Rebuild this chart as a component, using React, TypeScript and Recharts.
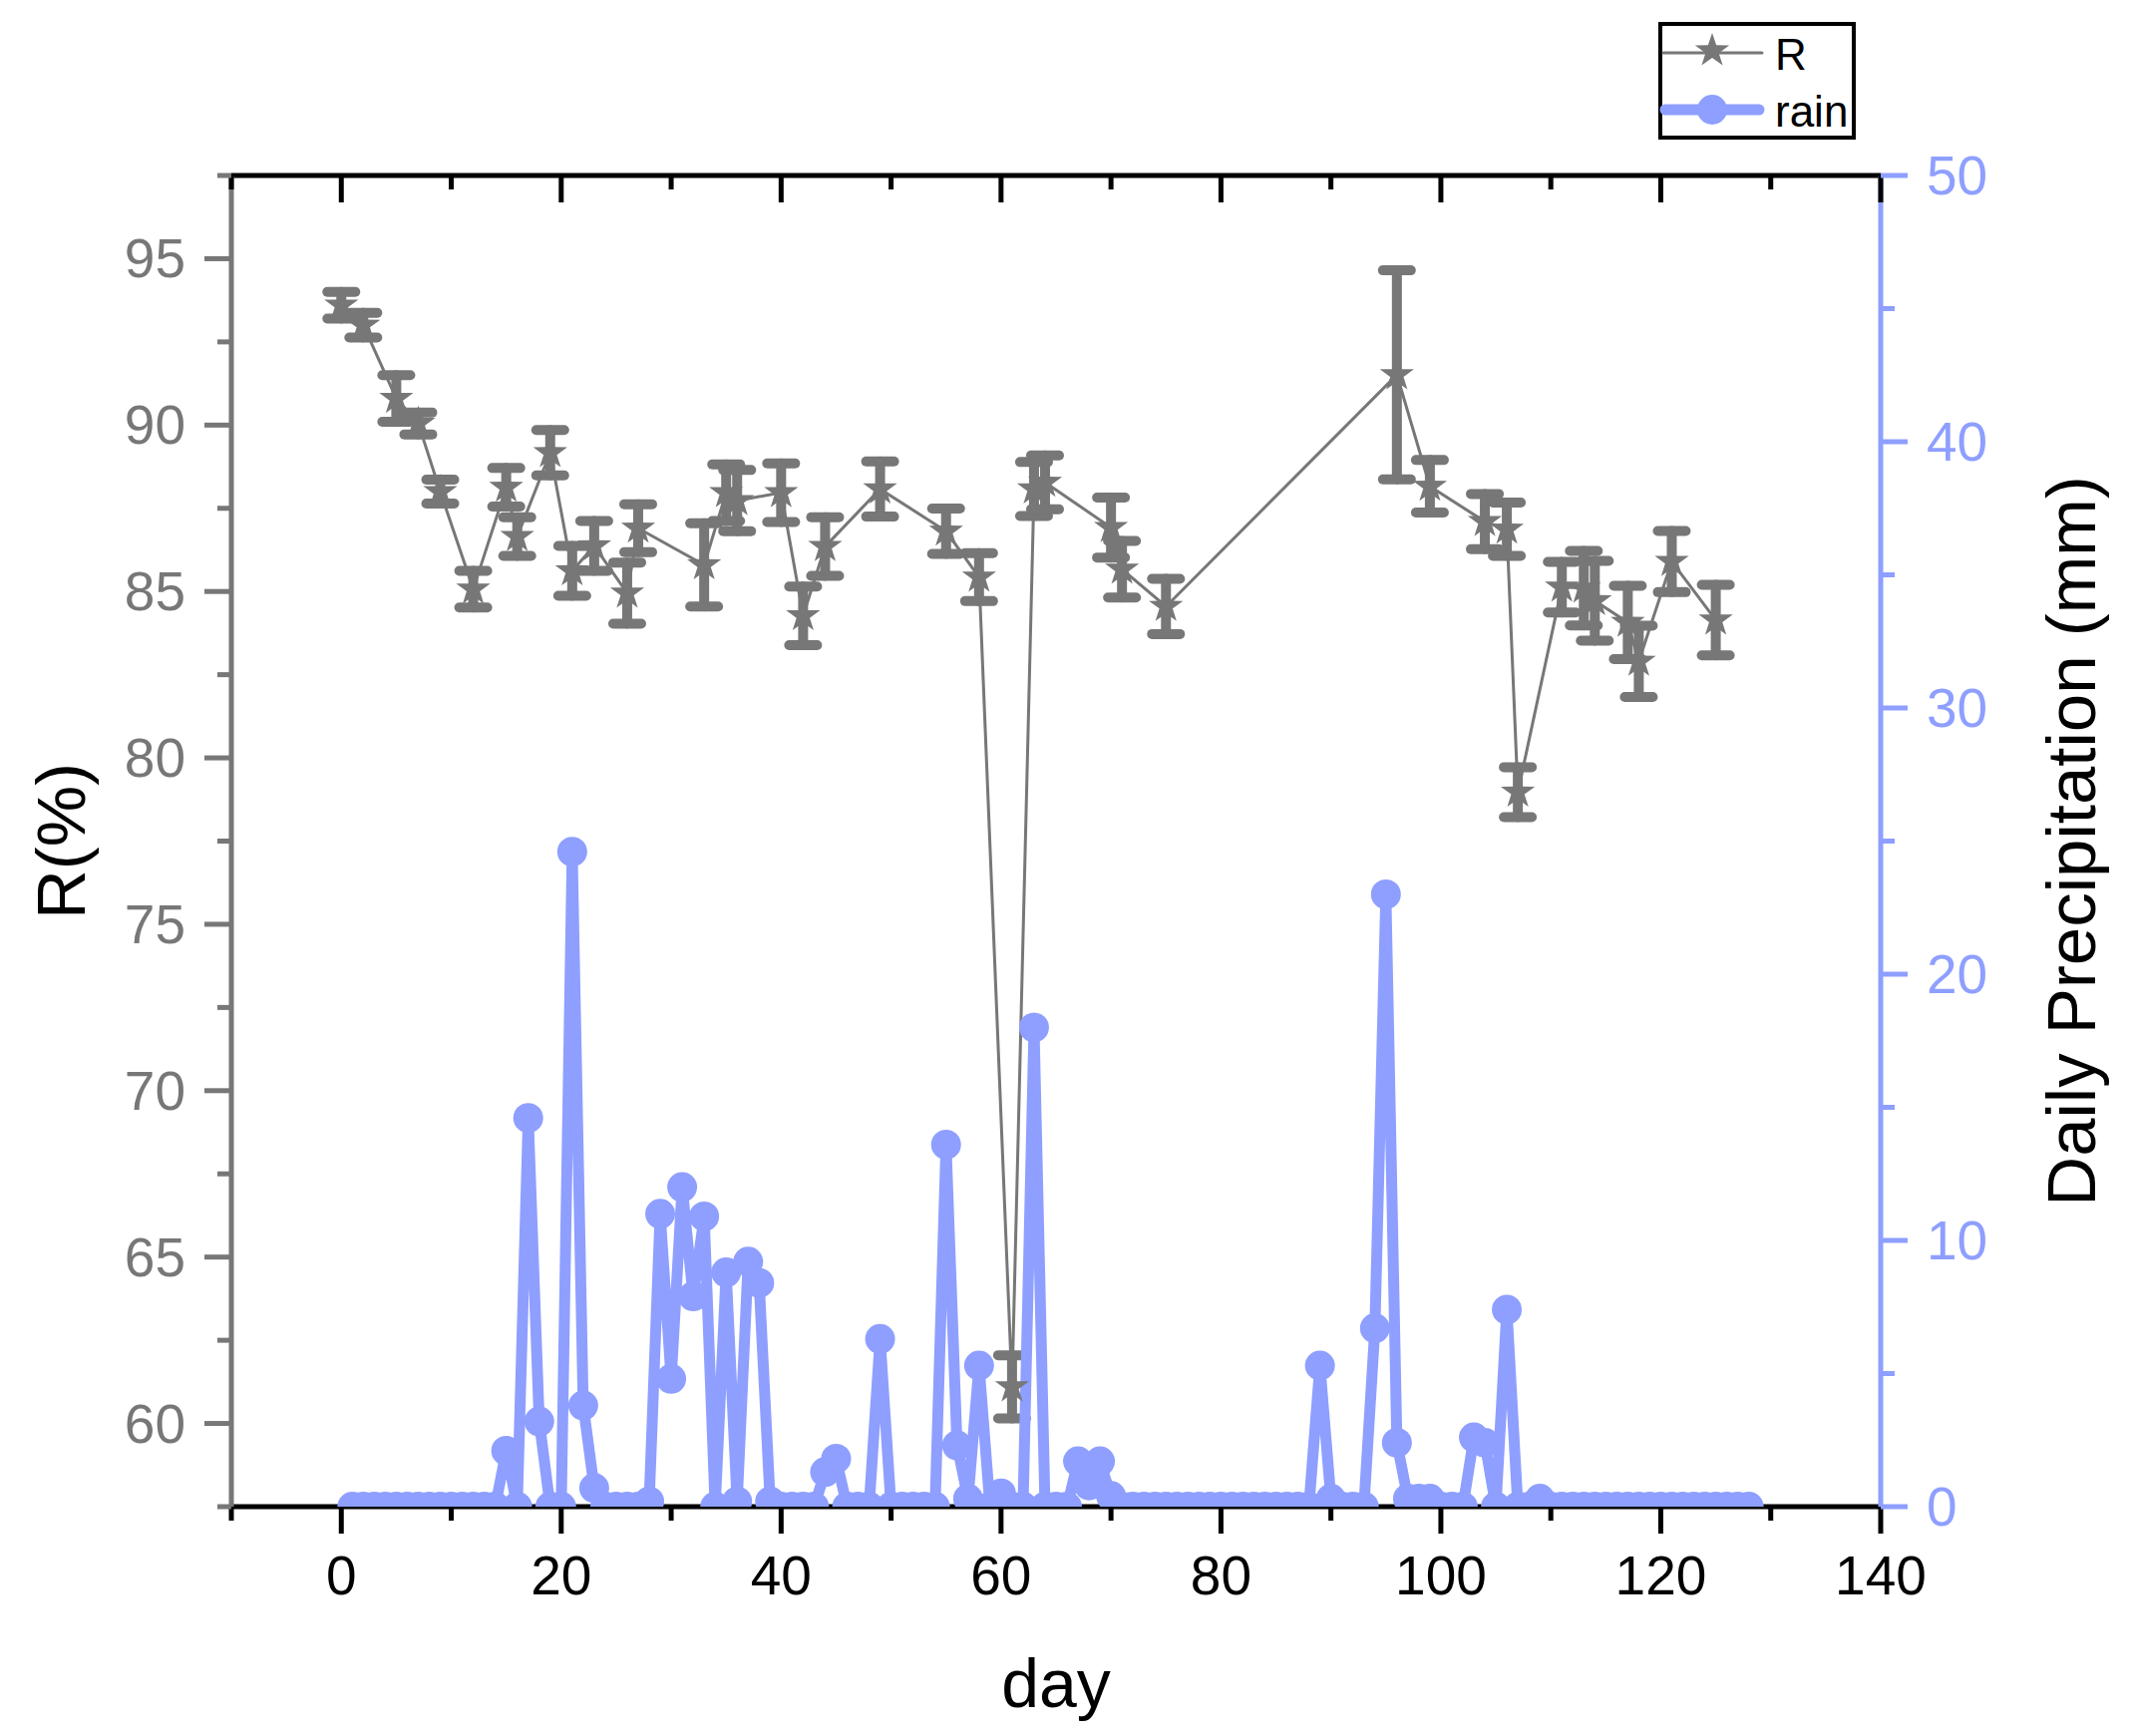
import React from "react";
import { LineChart, Line, XAxis, YAxis, ErrorBar, Legend } from "recharts";

const GRAY = "#777777";
const BLUE = "#8E9FFF";
const FONT = "'Liberation Sans', Arial, sans-serif";

// R(%) sampling days, means and error half-widths
const rDays = [0, 2, 5, 7, 9, 12, 15, 16, 19, 21, 23, 26, 27, 33, 35, 36, 40, 42, 44, 49, 55, 58, 61, 63, 64, 70, 71, 75, 96, 99, 104, 106, 107, 111, 113, 114, 117, 118, 121, 125];
const rValues = [93.6, 93.0, 90.8, 90.05, 88.0, 85.07, 88.13, 86.65, 89.17, 85.62, 86.37, 84.95, 86.9, 85.8, 87.97, 87.73, 87.97, 84.27, 86.35, 88.08, 86.81, 85.43, 61.1, 88.08, 88.28, 86.92, 85.67, 84.55, 91.51, 88.16, 87.1, 86.87, 78.97, 85.13, 85.1, 84.72, 84.07, 82.9, 85.9, 84.14];
const rErrors = [0.4, 0.37, 0.7, 0.33, 0.36, 0.55, 0.58, 0.58, 0.68, 0.75, 0.75, 0.92, 0.72, 1.25, 0.85, 0.92, 0.88, 0.88, 0.88, 0.83, 0.68, 0.72, 0.95, 0.81, 0.81, 0.9, 0.85, 0.83, 3.14, 0.79, 0.83, 0.8, 0.75, 0.76, 1.12, 1.2, 1.1, 1.07, 0.92, 1.06];

// daily precipitation (mm), day 1 .. day 128
const rainValues = [
  0, 0, 0, 0, 0, 0, 0, 0, 0, 0, // 1-10
  0, 0, 0, 0, 2.1, 0, 14.6, 3.2, 0, 0, // 11-20
  24.6, 3.8, 0.7, 0, 0, 0, 0, 0.2, 11.0, 4.8, // 21-30
  12.0, 7.9, 10.9, 0, 8.8, 0.2, 9.2, 8.4, 0.2, 0, // 31-40
  0, 0, 0, 1.3, 1.8, 0, 0, 0, 6.3, 0, // 41-50
  0, 0, 0, 0, 13.6, 2.3, 0.3, 5.3, 0, 0.5, // 51-60
  0, 0, 18.0, 0, 0, 0, 1.7, 0.8, 1.7, 0.4, // 61-70
  0, 0, 0, 0, 0, 0, 0, 0, 0, 0, // 71-80
  0, 0, 0, 0, 0, 0, 0, 0, 5.3, 0.3, // 81-90
  0, 0, 0, 6.7, 23.0, 2.4, 0.3, 0.3, 0.3, 0, // 91-100
  0, 0, 2.6, 2.4, 0, 7.4, 0, 0, 0.3, 0, // 101-110
  0, 0, 0, 0, 0, 0, 0, 0, 0, 0, // 111-120
  0, 0, 0, 0, 0, 0, 0, 0, // 121-128
];

const xTicks = [-10, 0, 10, 20, 30, 40, 50, 60, 70, 80, 90, 100, 110, 120, 130, 140];
const leftTicks = [57.5, 60, 62.5, 65, 67.5, 70, 72.5, 75, 77.5, 80, 82.5, 85, 87.5, 90, 92.5, 95, 97.5];
const rightTicks = [0, 5, 10, 15, 20, 25, 30, 35, 40, 45, 50];

const rData = rDays.map((day, i) => ({ day, r: rValues[i], err: rErrors[i] }));
const rainData = rainValues.map((rain, i) => ({ day: i + 1, rain }));

function starPath(cx: number, cy: number, outer: number, inner: number) {
  let d = "";
  for (let i = 0; i < 10; i++) {
    const rad = i % 2 === 0 ? outer : inner;
    const a = -Math.PI / 2 + (i * Math.PI) / 5;
    d += (i === 0 ? "M" : "L") + (cx + rad * Math.cos(a)).toFixed(2) + "," + (cy + rad * Math.sin(a)).toFixed(2);
  }
  return d + "Z";
}

const StarDot = (props: any) => {
  const { cx, cy, index } = props;
  if (cx == null || cy == null) return <g key={`s-${index}`} />;
  return <path key={`s-${index}`} d={starPath(cx, cy, 18, 7)} fill={GRAY} />;
};

const BottomTick = (props: any) => {
  const { x, y, payload } = props;
  const major = payload.value % 20 === 0;
  return (
    <g>
      <line x1={x} y1={y} x2={x} y2={y + (major ? 27 : 14)} stroke="#000" strokeWidth={5} />
      {major && (
        <text x={x} y={y + 88} textAnchor="middle" fontSize={55} fontFamily={FONT} fill="#000">
          {payload.value}
        </text>
      )}
    </g>
  );
};

const TopTick = (props: any) => {
  const { x, y, payload } = props;
  const major = payload.value % 20 === 0;
  return <line x1={x} y1={y} x2={x} y2={y + (major ? 27 : 14)} stroke="#000" strokeWidth={5} />;
};

const LeftTick = (props: any) => {
  const { x, y, payload } = props;
  const major = payload.value % 5 === 0;
  return (
    <g>
      <line x1={x} y1={y} x2={x - (major ? 27 : 14)} y2={y} stroke={GRAY} strokeWidth={5} />
      {major && (
        <text x={x - 46} y={y + 19} textAnchor="end" fontSize={55} fontFamily={FONT} fill={GRAY}>
          {payload.value}
        </text>
      )}
    </g>
  );
};

const RightTick = (props: any) => {
  const { x, y, payload } = props;
  const major = payload.value % 10 === 0;
  return (
    <g>
      <line x1={x} y1={y} x2={x + (major ? 27 : 14)} y2={y} stroke={BLUE} strokeWidth={5} />
      {major && (
        <text x={x + 46} y={y + 19} textAnchor="start" fontSize={55} fontFamily={FONT} fill={BLUE}>
          {payload.value}
        </text>
      )}
    </g>
  );
};

const LegendBox = (props: any) => {
  const items = props.payload ?? [];
  return (
    <svg width={198} height={118} style={{ display: "block" }}>
      <rect x={2} y={2} width={194} height={114} fill="#fff" stroke="#000" strokeWidth={4} />
      {items.map((it: any, i: number) => {
        const cy = 31 + i * 57;
        const isRain = it.dataKey === "rain";
        return (
          <g key={it.value}>
            {isRain ? (
              <>
                <line x1={7} y1={cy} x2={101} y2={cy} stroke={BLUE} strokeWidth={11} strokeLinecap="round" />
                <circle cx={54} cy={cy} r={15} fill={BLUE} />
              </>
            ) : (
              <>
                <line x1={5} y1={cy} x2={104} y2={cy} stroke={GRAY} strokeWidth={3} strokeLinecap="round" />
                <path d={starPath(54, cy - 2, 18, 7)} fill={GRAY} />
              </>
            )}
            <text x={117} y={cy + 17} fontSize={44} fontFamily={FONT} fill="#000">
              {it.value}
            </text>
          </g>
        );
      })}
    </svg>
  );
};

export default function App() {
  return (
    <div style={{ position: "absolute", left: 0, top: 0, width: 2135, height: 1741, background: "#fff" }}>
      <LineChart width={2135} height={1741} margin={{ top: 146, right: 0, bottom: 0, left: 0 }} style={{ fontFamily: FONT }}>
        <XAxis
          xAxisId="bottom"
          type="number"
          dataKey="day"
          orientation="bottom"
          domain={[-10, 140]}
          ticks={xTicks}
          allowDataOverflow
          height={230}
          axisLine={{ stroke: "#000", strokeWidth: 5 }}
          tickLine={false}
          tickSize={0}
          tickMargin={0}
          tick={BottomTick}
          interval={0}
          label={{ value: "day", position: "insideBottom", offset: 29, fontSize: 68, fill: "#000", fontFamily: FONT }}
        />
        <XAxis
          xAxisId="top"
          type="number"
          dataKey="day"
          orientation="top"
          domain={[-10, 140]}
          ticks={xTicks}
          allowDataOverflow
          height={30}
          axisLine={{ stroke: "#000", strokeWidth: 5 }}
          tickLine={false}
          tickSize={0}
          tickMargin={0}
          tick={TopTick}
          interval={0}
        />
        <YAxis
          yAxisId="left"
          width={232}
          domain={[57.5, 97.5]}
          ticks={leftTicks}
          allowDataOverflow
          axisLine={{ stroke: GRAY, strokeWidth: 5 }}
          tickLine={false}
          tickSize={0}
          tickMargin={0}
          tick={LeftTick}
          interval={0}
          label={{ value: "R(%)", angle: -90, position: "insideLeft", offset: 61, fontSize: 69, fill: "#000", fontFamily: FONT, textAnchor: "middle" }}
        />
        <YAxis
          yAxisId="right"
          orientation="right"
          width={249}
          domain={[0, 50]}
          ticks={rightTicks}
          allowDataOverflow
          axisLine={{ stroke: BLUE, strokeWidth: 5 }}
          tickLine={false}
          tickSize={0}
          tickMargin={0}
          tick={RightTick}
          interval={0}
          label={{ value: "Daily Precipitation (mm)", angle: -90, position: "insideRight", offset: 58, fontSize: 69, fill: "#000", fontFamily: FONT, textAnchor: "middle" }}
        />
        <Legend
          layout="vertical"
          align="center"
          verticalAlign="middle"
          wrapperStyle={{ top: 22, left: 1663, width: 198, height: 118 }}
          content={LegendBox}
        />
        <Line
          data={rData}
          xAxisId="bottom"
          yAxisId="left"
          dataKey="r"
          name="R"
          stroke={GRAY}
          strokeWidth={3}
          dot={StarDot}
          activeDot={false}
          isAnimationActive={false}
        >
          <ErrorBar dataKey="err" direction="y" width={14} stroke={GRAY} strokeWidth={10} strokeLinecap="round" isAnimationActive={false} />
        </Line>
        <Line
          data={rainData}
          xAxisId="bottom"
          yAxisId="right"
          dataKey="rain"
          name="rain"
          stroke={BLUE}
          strokeWidth={11}
          strokeLinejoin="round"
          dot={{ r: 15, fill: BLUE, stroke: "none" }}
          activeDot={false}
          isAnimationActive={false}
        />
      </LineChart>
    </div>
  );
}
